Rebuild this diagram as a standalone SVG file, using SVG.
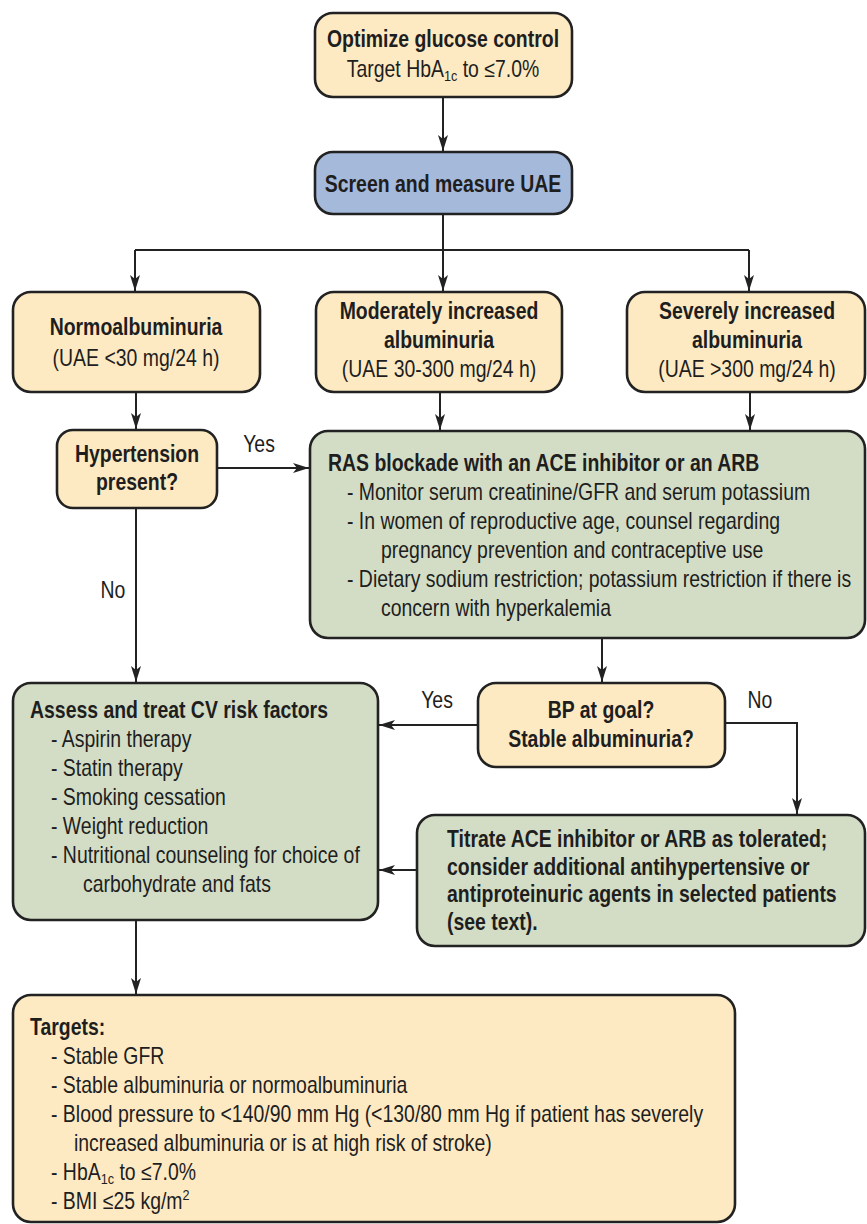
<svg xmlns="http://www.w3.org/2000/svg" width="867" height="1224" viewBox="0 0 867 1224">
<style>
.box{stroke:#222;stroke-width:2.6}
.y{fill:#fdeac3}
.g{fill:#d3ddc5}
.b{fill:#a5b9db}
text{font-family:"Liberation Sans",Arial,sans-serif;font-size:23px;fill:#1e1e1e}
.bd{font-weight:bold}
.c{text-anchor:middle}
.con{fill:none;stroke:#222;stroke-width:2}
</style>
<defs>
<marker id="ah" viewBox="0 0 16 10" refX="16" refY="5" markerWidth="16" markerHeight="10" markerUnits="userSpaceOnUse" orient="auto">
<path d="M0,0 L16,5 L0,10 L4,5 z" fill="#222"/>
</marker>
</defs>
<g id="connectors">
<path class="con" d="M443,97 V151" marker-end="url(#ah)"/>
<path class="con" d="M443,214 V250 M135,250 H749"/>
<path class="con" d="M135,250 V291" marker-end="url(#ah)"/>
<path class="con" d="M443,250 V291" marker-end="url(#ah)"/>
<path class="con" d="M749,250 V291" marker-end="url(#ah)"/>
<path class="con" d="M136,392 V429" marker-end="url(#ah)"/>
<path class="con" d="M440,392 V430" marker-end="url(#ah)"/>
<path class="con" d="M750,392 V430" marker-end="url(#ah)"/>
<path class="con" d="M217,468 H309" marker-end="url(#ah)"/>
<path class="con" d="M136,508 V682" marker-end="url(#ah)"/>
<path class="con" d="M602,638 V682" marker-end="url(#ah)"/>
<path class="con" d="M478,725 H379" marker-end="url(#ah)"/>
<path class="con" d="M725,723 H797 V814" marker-end="url(#ah)"/>
<path class="con" d="M417,870 H379" marker-end="url(#ah)"/>
<path class="con" d="M136,920 V994" marker-end="url(#ah)"/>
<text transform="translate(259,452) scale(.845,1)" class="c">Yes</text>
<text transform="translate(113,598) scale(.845,1)" class="c">No</text>
<text transform="translate(437,708) scale(.845,1)" class="c">Yes</text>
<text transform="translate(760,708) scale(.845,1)" class="c">No</text>
</g>
<g id="n_glucose">
<rect class="box y" x="315" y="13" width="257" height="84" rx="18"/>
<text transform="translate(443,47) scale(.845,1)" class="c bd">Optimize glucose control</text>
<text transform="translate(443,77) scale(.845,1)" class="c">Target HbA<tspan font-size="15" dy="4">1c</tspan><tspan dy="-4"> to ≤7.0%</tspan></text>
</g>
<g id="n_screen">
<rect class="box b" x="315" y="152" width="257" height="62" rx="18"/>
<text transform="translate(443,192) scale(.845,1)" class="c bd">Screen and measure UAE</text>
</g>
<g id="n_normo">
<rect class="box y" x="13" y="292" width="247" height="100" rx="18"/>
<text transform="translate(136,335) scale(.845,1)" class="c bd">Normoalbuminuria</text>
<text transform="translate(136,366) scale(.845,1)" class="c">(UAE &lt;30 mg/24 h)</text>
</g>
<g id="n_moderate">
<rect class="box y" x="316" y="292" width="246" height="100" rx="18"/>
<text transform="translate(439,319) scale(.845,1)" class="c bd">Moderately increased</text>
<text transform="translate(439,348) scale(.845,1)" class="c bd">albuminuria</text>
<text transform="translate(439,377) scale(.845,1)" class="c">(UAE 30-300 mg/24 h)</text>
</g>
<g id="n_severe">
<rect class="box y" x="627" y="292" width="238" height="100" rx="18"/>
<text transform="translate(747,319) scale(.845,1)" class="c bd">Severely increased</text>
<text transform="translate(747,348) scale(.845,1)" class="c bd">albuminuria</text>
<text transform="translate(747,377) scale(.845,1)" class="c">(UAE &gt;300 mg/24 h)</text>
</g>
<g id="n_htn">
<rect class="box y" x="57" y="430" width="160" height="78" rx="16"/>
<text transform="translate(137,462) scale(.845,1)" class="c bd">Hypertension</text>
<text transform="translate(137,490) scale(.845,1)" class="c bd">present?</text>
</g>
<g id="n_ras">
<rect class="box g" x="310" y="431" width="555" height="207" rx="18"/>
<text transform="translate(328,471) scale(.845,1)" class="bd">RAS blockade with an ACE inhibitor or an ARB</text>
<text transform="translate(347,500) scale(.845,1)">- Monitor serum creatinine/GFR and serum potassium</text>
<text transform="translate(347,529) scale(.845,1)">- In women of reproductive age, counsel regarding</text>
<text transform="translate(381,558) scale(.845,1)">pregnancy prevention and contraceptive use</text>
<text transform="translate(347,587) scale(.845,1)">- Dietary sodium restriction; potassium restriction if there is</text>
<text transform="translate(381,616) scale(.845,1)">concern with hyperkalemia</text>
</g>
<g id="n_assess">
<rect class="box g" x="13" y="683" width="365" height="237" rx="18"/>
<text transform="translate(30,718) scale(.845,1)" class="bd">Assess and treat CV risk factors</text>
<text transform="translate(51,747) scale(.845,1)">- Aspirin therapy</text>
<text transform="translate(51,776) scale(.845,1)">- Statin therapy</text>
<text transform="translate(51,805) scale(.845,1)">- Smoking cessation</text>
<text transform="translate(51,834) scale(.845,1)">- Weight reduction</text>
<text transform="translate(51,863) scale(.845,1)">- Nutritional counseling for choice of</text>
<text transform="translate(83,892) scale(.845,1)">carbohydrate and fats</text>
</g>
<g id="n_bp">
<rect class="box y" x="478" y="683" width="247" height="84" rx="18"/>
<text transform="translate(601,718) scale(.845,1)" class="c bd">BP at goal?</text>
<text transform="translate(601,747) scale(.845,1)" class="c bd">Stable albuminuria?</text>
</g>
<g id="n_titrate">
<rect class="box g" x="417" y="815" width="448" height="131" rx="18"/>
<text transform="translate(447,847) scale(.845,1)" class="bd">Titrate ACE inhibitor or ARB as tolerated;</text>
<text transform="translate(447,875) scale(.845,1)" class="bd">consider additional antihypertensive or</text>
<text transform="translate(447,902) scale(.845,1)" class="bd">antiproteinuric agents in selected patients</text>
<text transform="translate(447,930) scale(.845,1)" class="bd">(see text).</text>
</g>
<g id="n_targets">
<rect class="box y" x="13" y="995" width="722" height="227" rx="18"/>
<text transform="translate(30,1035) scale(.845,1)" class="bd">Targets:</text>
<text transform="translate(51,1064) scale(.845,1)">- Stable GFR</text>
<text transform="translate(51,1093) scale(.845,1)">- Stable albuminuria or normoalbuminuria</text>
<text transform="translate(51,1122) scale(.845,1)">- Blood pressure to &lt;140/90 mm Hg (&lt;130/80 mm Hg if patient has severely</text>
<text transform="translate(74,1151) scale(.845,1)">increased albuminuria or is at high risk of stroke)</text>
<text transform="translate(51,1180) scale(.845,1)">- HbA<tspan font-size="15" dy="4">1c</tspan><tspan dy="-4"> to ≤7.0%</tspan></text>
<text transform="translate(51,1209) scale(.845,1)">- BMI ≤25 kg/m<tspan font-size="15" dy="-9">2</tspan></text>
</g>
</svg>
